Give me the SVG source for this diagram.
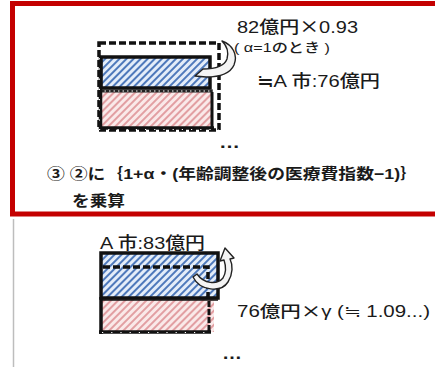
<svg xmlns="http://www.w3.org/2000/svg" width="435" height="367" viewBox="0 0 435 367">
<style>
.t{font-family:"Liberation Sans","Noto Sans CJK JP",sans-serif;fill:#1a1a1a;font-weight:500}
.b{font-weight:bold}
.j{font-family:"Noto Sans CJK JP",sans-serif}
.blk{fill:none;stroke:#111;stroke-width:3.5}
.dash{fill:none;stroke:#111;stroke-width:3.5;stroke-dasharray:7 3}
.tick{fill:none;stroke:#fff;stroke-width:1;stroke-dasharray:1.2 8}
.arr{fill:#f4f4f4;stroke:#222;stroke-width:1.4;stroke-linejoin:round}
</style>
<defs>
<pattern id="hb" patternUnits="userSpaceOnUse" width="5" height="5" patternTransform="rotate(45)">
<rect width="5" height="5" fill="#e4edf9"/>
<line x1="1" y1="0" x2="1" y2="5" stroke="#3e6cb4" stroke-width="1.8"/>
</pattern>
<pattern id="hr" patternUnits="userSpaceOnUse" width="5" height="5" patternTransform="rotate(45)">
<rect width="5" height="5" fill="#fae9e9"/>
<line x1="1" y1="0" x2="1" y2="5" stroke="#dc8c90" stroke-width="1.6"/>
</pattern>
</defs>

<g id="frame">
<rect x="12.5" y="3.5" width="440" height="210.5" fill="none" stroke="#c40000" stroke-width="5"/>
<line x1="13.5" y1="219" x2="13.5" y2="367" stroke="#bdbdbd" stroke-width="1.5"/>
</g>

<g id="top-diagram">
<rect x="101" y="92" width="111" height="36" fill="url(#hr)"/>
<rect x="101" y="57" width="109" height="31" fill="url(#hb)"/>
<rect x="101" y="57" width="109" height="31" class="blk"/>
<line x1="100" y1="91" x2="213" y2="91" stroke="#222" stroke-width="3"/>
<line x1="100" y1="91" x2="213" y2="91" stroke="#fff" stroke-width="1" stroke-dasharray="1.5 3"/>
<line x1="212" y1="92" x2="212" y2="129" stroke="#111" stroke-width="3"/>
<line x1="100.5" y1="56" x2="100.5" y2="130" stroke="#111" stroke-width="3.5"/>
<line x1="99" y1="128" x2="214" y2="128" stroke="#111" stroke-width="3.5"/>
<rect x="99" y="43" width="120" height="87" class="dash"/>
<line x1="99" y1="129.5" x2="219" y2="129.5" class="tick"/>
<line x1="99.5" y1="48" x2="99.5" y2="130" stroke="#fff" stroke-width="1" stroke-dasharray="1.2 9"/>
<path class="arr" d="M222,41 C233,45 238,55 234,65 C230,74 218,77 206,77 L195,76 L203,69 C214,69 224,67 227,59 C229,52 227,46 222,41 Z"/>
</g>

<g id="bottom-diagram">
<rect x="101" y="253" width="117" height="45" fill="url(#hb)"/>
<rect x="101" y="299" width="113" height="33" fill="url(#hr)"/>
<rect x="101" y="253" width="117" height="45" class="blk"/>
<path d="M103,267 H208 V297" class="dash" stroke-width="3"/>
<line x1="100" y1="300" x2="218" y2="300" stroke="#111" stroke-width="1.5"/>
<line x1="209" y1="301" x2="209" y2="333" stroke="#111" stroke-width="3" stroke-dasharray="6 2"/>
<line x1="101" y1="297" x2="101" y2="334" stroke="#111" stroke-width="3.5"/>
<line x1="99" y1="332" x2="211" y2="332" stroke="#111" stroke-width="3.5"/>
<line x1="102" y1="332.5" x2="210" y2="332.5" class="tick"/>
<path class="arr" d="M193,277 C200,291 221,293 228,282 C233,274 233,265 230,259 L234,258 L225,248 L220,261 L224,260 C226,266 226,273 223,278 C217,285 204,284 197,274 Z"/>
</g>

<g id="labels">
<text class="t" x="237" y="33" font-size="17" textLength="121" lengthAdjust="spacingAndGlyphs">82億円<tspan class="j">×</tspan>0.93</text>
<text class="t" x="234" y="52" font-size="13" textLength="96" lengthAdjust="spacingAndGlyphs">( α=1のとき )</text>
<text class="t" x="257" y="87" font-size="17" textLength="123" lengthAdjust="spacingAndGlyphs">≒A 市:76億円</text>
<text class="t b" x="219" y="148" font-size="16" textLength="21" lengthAdjust="spacingAndGlyphs">…</text>
<text class="t b" x="47" y="179" font-size="15" textLength="371" lengthAdjust="spacingAndGlyphs">③ ②に｛1+α・(年齢調整後の医療費指数−1)｝</text>
<text class="t b" x="72" y="206" font-size="15" textLength="53" lengthAdjust="spacingAndGlyphs">を乗算</text>
<text class="t" x="100" y="249" font-size="17" textLength="105" lengthAdjust="spacingAndGlyphs">A 市:83億円</text>
<text class="t" x="237" y="317" font-size="16" textLength="193" lengthAdjust="spacingAndGlyphs">76億円<tspan class="j">×</tspan>γ (≒ 1.09...)</text>
<text class="t b" x="222" y="359" font-size="16" textLength="20" lengthAdjust="spacingAndGlyphs">…</text>
</g>
</svg>
